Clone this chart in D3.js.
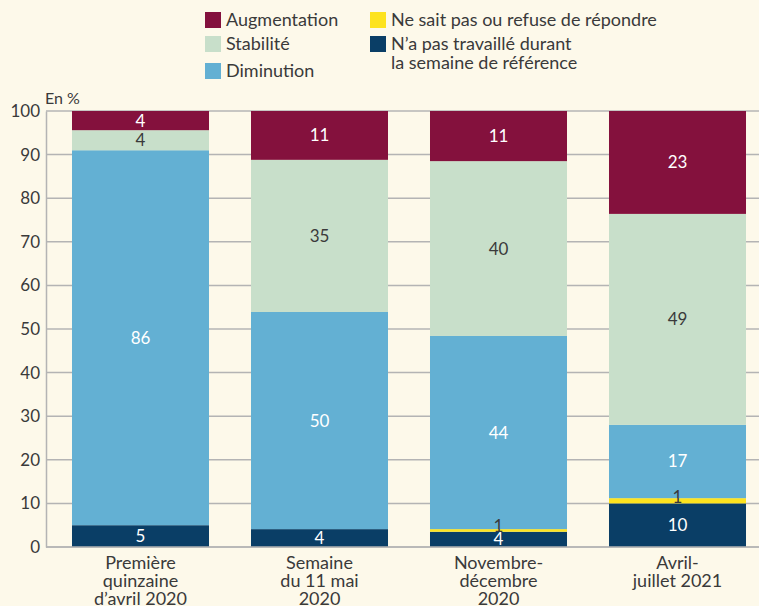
<!DOCTYPE html>
<html>
<head>
<meta charset="utf-8">
<script src="https://cdn.jsdelivr.net/npm/d3@7"></script>
<style>
  body { margin: 0; background: #fdf9ea; }
  svg text { font-family: "Lato", "Open Sans", sans-serif; }
</style>
</head>
<body>
<div id="chart"></div>
<script>
// categories (periods) and the answer series, bottom to top
const periods = [
    ["Première", "quinzaine", "d’avril 2020"],
    ["Semaine", "du 11 mai", "2020"],
    ["Novembre-", "décembre", "2020"],
    ["Avril-", "juillet 2021"]
];
const seriesKeys = ["nonTravail", "nsp", "diminution", "stabilite", "augmentation"];

// segment heights (%)
const nonTravail   = [5.0, 4.1, 3.5, 10.0];
const nsp          = [0, 0, 0.6, 1.2];
const diminution   = [86.0, 49.8, 44.3, 16.8];
const stabilite    = [4.6, 34.9, 40.1, 48.4];
const augmentation = [4.4, 11.2, 11.5, 23.6];

// rounded numbers printed on the segments
const nonTravailLabels   = [5, 4, 4, 10];
const nspLabels          = [null, null, 1, 1];
const diminutionLabels   = [86, 50, 44, 17];
const stabiliteLabels    = [4, 35, 40, 49];
const augmentationLabels = [4, 11, 11, 23];

const yTicks = [0, 10, 20, 30, 40, 50, 60, 70, 80, 90, 100];

const colors = {
    augmentation: "#84113d",
    stabilite: "#c8dfca",
    diminution: "#63b0d3",
    nsp: "#fde31f",
    nonTravail: "#0a3e66"
};
const labelColor = {
    augmentation: "#fff", stabilite: "#3a3a3a", diminution: "#fff",
    nsp: "#3a3a3a", nonTravail: "#fff"
};

const width = 759, height = 606;
const svg = d3.select("#chart").append("svg")
    .attr("width", width).attr("height", height)
    .style("background", "#fdf9ea");

// build table rows for d3.stack
const seriesData = {nonTravail, nsp, diminution, stabilite, augmentation};
const seriesLabels = {
    nonTravail: nonTravailLabels, nsp: nspLabels, diminution: diminutionLabels,
    stabilite: stabiliteLabels, augmentation: augmentationLabels
};
const rows = periods.map((p, i) => {
    let row = {idx: i};
    seriesKeys.forEach(k => { row[k] = seriesData[k][i]; row[k + "_lab"] = seriesLabels[k][i]; });
    return row;
});

const x = d3.scaleBand()
    .domain(d3.range(periods.length))
    .range([51, 767])
    .paddingInner(0.2346)
    .paddingOuter(0.1173);
const y = d3.scaleLinear().domain([0, 100]).range([547, 111]);

// gridlines
svg.append("g").selectAll("line")
    .data(yTicks)
    .enter().append("line")
    .attr("x1", 46).attr("x2", width)
    .attr("y1", d => y(d)).attr("y2", d => y(d))
    .attr("stroke", "#b4b4b4").attr("stroke-width", 1.5);

// y axis
let yAxis = svg.append("g")
    .attr("transform", "translate(46,0)")
    .call(d3.axisLeft(y).tickValues(yTicks).tickSize(0).tickPadding(6));
yAxis.select(".domain").attr("stroke", "#b4b4b4").attr("stroke-width", 1.5);
yAxis.selectAll("text")
    .attr("fill", "#3a3a3a")
    .style("font-size", "17px");

svg.append("text")
    .attr("x", 45).attr("y", 104)
    .attr("fill", "#3a3a3a")
    .style("font-size", "16px")
    .text("En %");

// stacks
const stacked = d3.stack().keys(seriesKeys)(rows);

svg.append("g").selectAll("g")
    .data(stacked)
    .enter().append("g")
    .attr("fill", d => colors[d.key])
    .selectAll("rect")
    .data(d => d)
    .enter().append("rect")
    .attr("x", d => x(d.data.idx))
    .attr("width", x.bandwidth())
    .attr("y", d => y(d[1]))
    .attr("height", d => y(d[0]) - y(d[1]));

// segment labels, drawn after every rect so none gets covered
let labelLayer = svg.append("g");
stacked.forEach(layer => {
    labelLayer.append("g").selectAll("text")
        .data(layer.filter(d => d.data[layer.key + "_lab"] != null))
        .enter().append("text")
        .attr("x", d => x(d.data.idx) + x.bandwidth() / 2)
        .attr("y", d => y((d[0] + d[1]) / 2) - (layer.key === "nsp" ? 4 : 0))
        .attr("dy", "0.35em")
        .attr("text-anchor", "middle")
        .attr("fill", labelColor[layer.key])
        .style("font-size", "17px")
        .text(d => d.data[layer.key + "_lab"]);
});

// bottom axis line
svg.append("line")
    .attr("x1", 46).attr("x2", width)
    .attr("y1", y(0)).attr("y2", y(0))
    .attr("stroke", "#b4b4b4").attr("stroke-width", 1.5);

// category labels
let cats = svg.append("g").selectAll("text")
    .data(periods)
    .enter().append("text")
    .attr("text-anchor", "middle")
    .attr("fill", "#3a3a3a")
    .style("font-size", "18px")
    .attr("transform", (d, i) => "translate(" + (x(i) + x.bandwidth() / 2) + ",569)");
cats.selectAll("tspan")
    .data(d => d)
    .enter().append("tspan")
    .attr("x", 0)
    .attr("y", (d, i) => i * 18)
    .text(d => d);

// legend
const legendItems = [
    {key: "augmentation", lines: ["Augmentation"], x: 205, y: 12},
    {key: "stabilite", lines: ["Stabilité"], x: 205, y: 36},
    {key: "diminution", lines: ["Diminution"], x: 205, y: 63},
    {key: "nsp", lines: ["Ne sait pas ou refuse de répondre"], x: 370, y: 12},
    {key: "nonTravail", lines: ["N’a pas travaillé durant", "la semaine de référence"], x: 370, y: 36}
];
let legend = svg.append("g").selectAll("g")
    .data(legendItems)
    .enter().append("g")
    .attr("transform", d => "translate(" + d.x + "," + d.y + ")");
legend.append("rect")
    .attr("width", 16).attr("height", 16)
    .attr("fill", d => colors[d.key]);
legend.append("text")
    .attr("fill", "#3a3a3a")
    .style("font-size", "18px")
    .selectAll("tspan")
    .data(d => d.lines)
    .enter().append("tspan")
    .attr("x", 21)
    .attr("y", (d, i) => 14 + i * 19)
    .text(d => d);
</script>
</body>
</html>
